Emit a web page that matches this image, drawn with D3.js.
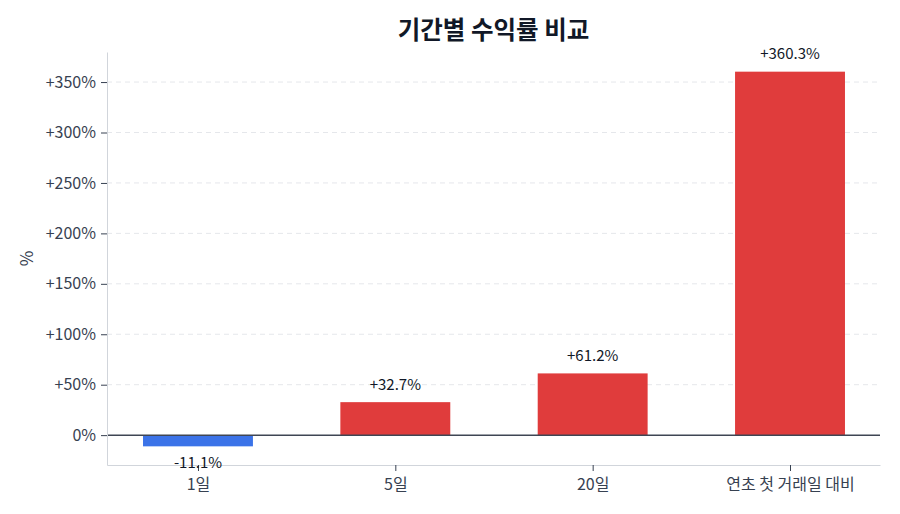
<!DOCTYPE html>
<html>
<head>
<meta charset="utf-8">
<script src="https://cdn.jsdelivr.net/npm/d3@7"></script>
<style>
  body { margin: 0; background: #fff; }
  text { font-family: "Noto Sans CJK KR", "Noto Sans", sans-serif; }
</style>
</head>
<body>
<div id="chart"></div>
<script>
const categories = ['1일', '5일', '20일', '연초 첫 거래일 대비'];
const returns = [-11.1, 32.7, 61.2, 360.3];
const yTicks = [0, 50, 100, 150, 200, 250, 300, 350];

const width = 900;
const height = 514;
const margin = { top: 52, right: 20, bottom: 49, left: 107 };
const innerW = width - margin.left - margin.right;
const innerH = height - margin.top - margin.bottom;

const xScale = d3.scaleLinear().domain([-0.461, 3.456]).range([0, innerW]);
const yScale = d3.scaleLinear().domain([-29.6, 379.8]).range([innerH, 0]);
const barW = xScale(0.557) - xScale(0);

const fmt = v => (v > 0 ? '+' : '-') + Math.abs(v).toFixed(1) + '%';
const tickFmt = v => (v > 0 ? '+' : '') + v + '%';
const fontFam = '"Noto Sans CJK KR", "Noto Sans", sans-serif';

const svg = d3.select('#chart').append('svg')
    .attr('width', width)
    .attr('height', height);

svg.append('text')
    .attr('x', margin.left + innerW / 2)
    .attr('y', 28)
    .attr('text-anchor', 'middle')
    .attr('dominant-baseline', 'central')
    .attr('font-size', 24.5)
    .attr('font-weight', 700)
    .attr('fill', '#111827')
    .text('기간별 수익률 비교');

const g = svg.append('g')
    .attr('transform', `translate(${margin.left},${margin.top})`);

// grid
g.append('g')
  .selectAll('line')
  .data(yTicks.filter(d => d !== 0))
  .join('line')
    .attr('x1', 0)
    .attr('x2', innerW)
    .attr('y1', d => yScale(d))
    .attr('y2', d => yScale(d))
    .attr('stroke', '#e5e7eb')
    .attr('stroke-width', 1)
    .attr('stroke-dasharray', '5,4');

// bars
g.append('g')
  .selectAll('rect')
  .data(returns)
  .join('rect')
    .attr('x', (d, i) => xScale(i) - barW / 2)
    .attr('y', d => yScale(Math.max(0, d)))
    .attr('width', barW)
    .attr('height', d => Math.abs(yScale(d) - yScale(0)))
    .attr('fill', d => d < 0 ? '#3b73e8' : '#e03c3c');

// zero line
g.append('line')
    .attr('x1', 0)
    .attr('x2', innerW)
    .attr('y1', yScale(0))
    .attr('y2', yScale(0))
    .attr('stroke', '#3f4654')
    .attr('stroke-width', 1.5);

// axes
const yAxis = d3.axisLeft(yScale).tickValues(yTicks).tickFormat(tickFmt)
    .tickSize(6).tickSizeOuter(0).tickPadding(5);
const yG = g.append('g').call(yAxis);
yG.select('.domain').attr('stroke', '#d1d5db');
yG.selectAll('.tick line').attr('stroke', '#374151');
yG.selectAll('.tick text').attr('font-size', 16).attr('fill', '#374151')
  .attr('font-family', fontFam);

const xAxis = d3.axisBottom(xScale).tickValues(d3.range(categories.length))
    .tickFormat(i => categories[i]).tickSize(6).tickSizeOuter(0).tickPadding(8);
const xG = g.append('g').attr('transform', `translate(0,${innerH})`).call(xAxis);
xG.select('.domain').attr('stroke', '#d1d5db');
xG.selectAll('.tick line').attr('stroke', '#374151');
xG.selectAll('.tick text').attr('font-size', 16).attr('fill', '#374151')
  .attr('font-family', fontFam);

// value labels
g.append('g')
  .selectAll('text')
  .data(returns)
  .join('text')
    .attr('x', (d, i) => xScale(i))
    .attr('y', d => d < 0 ? yScale(d) + 15 : yScale(d) - 19)
    .attr('text-anchor', 'middle')
    .attr('dominant-baseline', 'central')
    .attr('font-size', 15)
    .attr('fill', '#111827')
    .text(fmt);

svg.append('text')
    .attr('transform', `translate(25,${margin.top + innerH / 2}) rotate(-90)`)
    .attr('text-anchor', 'middle')
    .attr('dominant-baseline', 'central')
    .attr('font-size', 17)
    .attr('fill', '#374151')
    .text('%');
</script>
</body>
</html>
